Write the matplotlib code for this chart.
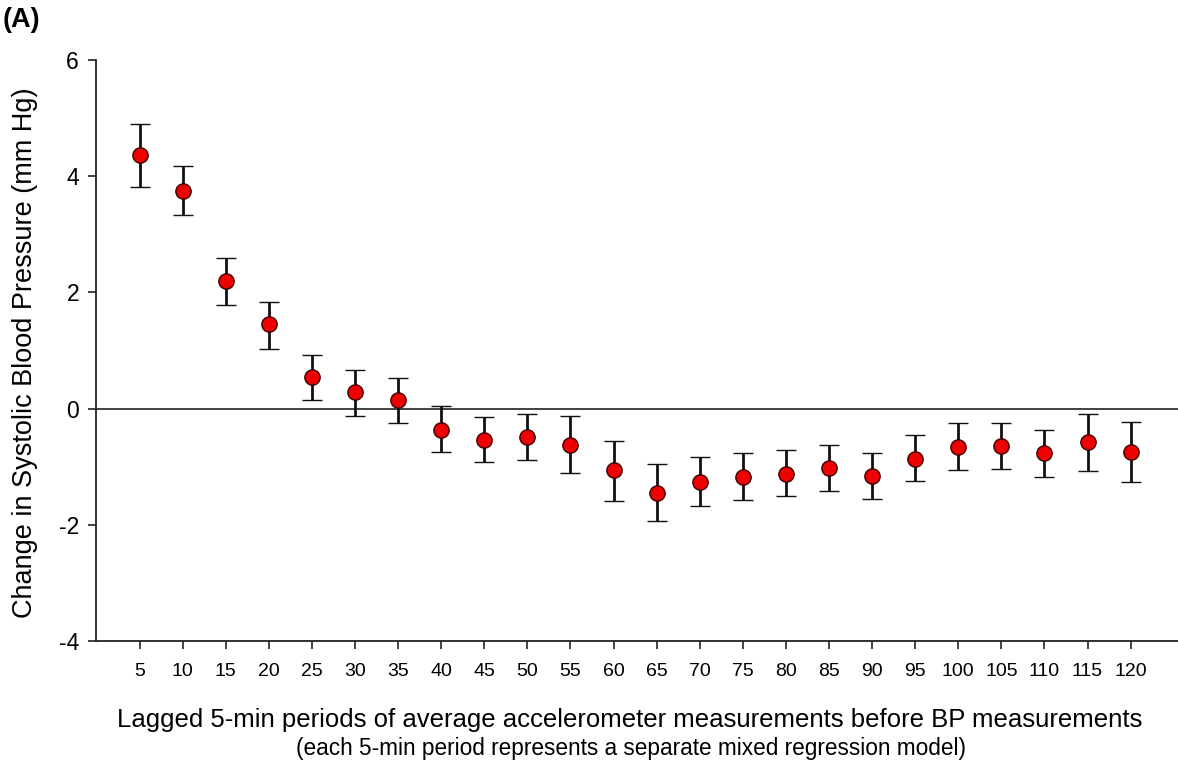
import matplotlib
matplotlib.use("Agg")
import matplotlib.pyplot as plt

plt.rcParams['font.family'] = ['Liberation Sans', 'DejaVu Sans']
plt.rcParams['axes.unicode_minus'] = False

lags = [5, 10, 15, 20, 25, 30, 35, 40, 45, 50, 55, 60, 65, 70, 75, 80, 85, 90, 95, 100, 105, 110, 115, 120]
estimate = [4.37, 3.75, 2.19, 1.45, 0.55, 0.28, 0.15, -0.36, -0.54, -0.49, -0.63, -1.06, -1.45, -1.26,
            -1.18, -1.12, -1.02, -1.16, -0.86, -0.66, -0.65, -0.77, -0.58, -0.75]
upper = [4.90, 4.18, 2.60, 1.84, 0.93, 0.67, 0.53, 0.05, -0.15, -0.09, -0.13, -0.55, -0.96, -0.84,
         -0.77, -0.72, -0.63, -0.76, -0.46, -0.25, -0.25, -0.36, -0.09, -0.23]
lower = [3.82, 3.34, 1.79, 1.03, 0.15, -0.12, -0.24, -0.75, -0.92, -0.89, -1.11, -1.59, -1.93, -1.67,
         -1.58, -1.51, -1.41, -1.56, -1.24, -1.05, -1.04, -1.18, -1.07, -1.26]
yticks = [-4, -2, 0, 2, 4, 6]

err_low = [e - l for e, l in zip(estimate, lower)]
err_up = [u - e for u, e in zip(upper, estimate)]

fig = plt.figure(figsize=(11.78, 7.62), dpi=100)
ax = fig.add_axes([95.7 / 1178, 1 - 641 / 762, 1 - 95.7 / 1178, (641 - 60) / 762])

ax.axhline(0, color='#333333', lw=1.3, zorder=1)
ax.errorbar(lags, estimate, yerr=[err_low, err_up], fmt='o', color='black',
            ecolor='#111111', elinewidth=2.0, capsize=7.5, capthick=2.0,
            markersize=11, markerfacecolor='#ee0000', markeredgecolor='#3a0000',
            markeredgewidth=1.0, zorder=3)

ax.set_xlim(-0.1, 125.5)
ax.set_ylim(-4, 6)
ax.set_xticks(lags)
ax.set_xticklabels([str(v) for v in lags], fontsize=14)
ax.set_yticks(yticks)
ax.set_yticklabels([str(v) for v in yticks], fontsize=16.5)
ax.tick_params(axis='both', direction='out', length=6, width=1.2, color='#222222')
ax.tick_params(axis='x', pad=10)
ax.tick_params(axis='y', pad=6)

for s in ['top', 'right']:
    ax.spines[s].set_visible(False)
for s in ['left', 'bottom']:
    ax.spines[s].set_linewidth(1.3)
    ax.spines[s].set_color('#222222')

ax.set_ylabel('Change in Systolic Blood Pressure (mm Hg)', fontsize=19.5)
ax.yaxis.set_label_coords(-58 / 1082.3, (641 - 353) / 581)

fig.text(630 / 1178, 1 - 720 / 762, 'Lagged 5-min periods of average accelerometer measurements before BP measurements',
         ha='center', va='center', fontsize=18.5)
fig.text(631 / 1178, 1 - 749 / 762, '(each 5-min period represents a separate mixed regression model)',
         ha='center', va='center', fontsize=16.3)
fig.text(3 / 1178, 1 - 20 / 762, '(A)', ha='left', va='center', fontsize=19.5, fontweight='bold')

fig.savefig('out.png', dpi=100)
